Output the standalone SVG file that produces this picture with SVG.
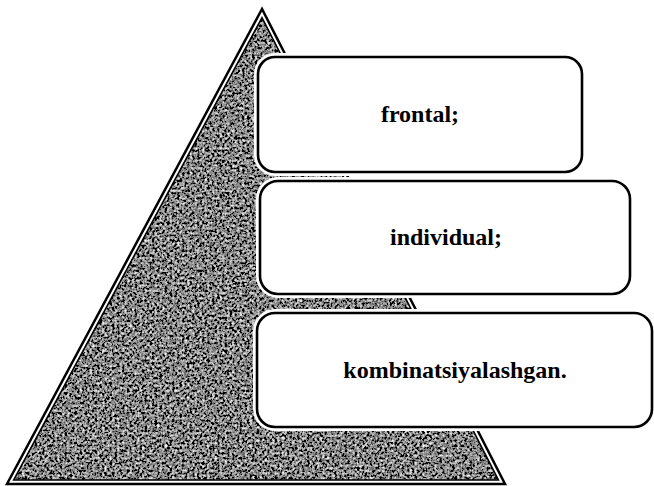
<svg xmlns="http://www.w3.org/2000/svg" width="654" height="486" viewBox="0 0 654 486">
  <style>
    .halo { fill: none; stroke: #ffffff; stroke-width: 8; }
    .box { fill: #ffffff; stroke: #000000; stroke-width: 2.6; }
    .label { font-family: "Liberation Serif", "Times New Roman", serif; font-weight: bold; font-size: 24px; fill: #000000; text-anchor: middle; }
  </style>
  <defs>
    <clipPath id="triClip">
      <polygon points="262,17.6 13.7,480 498.4,480"/>
    </clipPath>
    <filter id="granite" x="0" y="0" width="100%" height="100%" filterUnits="objectBoundingBox">
      <feTurbulence type="fractalNoise" baseFrequency="0.4" numOctaves="3" seed="7" result="n"/>
      <feColorMatrix in="n" type="matrix" values="0.33 0.33 0.33 0 0  0.33 0.33 0.33 0 0  0.33 0.33 0.33 0 0  0 0 0 0 1" result="g"/>
      <feComponentTransfer in="g">
        <feFuncR type="linear" slope="3.4" intercept="-1.45"/>
        <feFuncG type="linear" slope="3.4" intercept="-1.45"/>
        <feFuncB type="linear" slope="3.4" intercept="-1.45"/>
        <feFuncA type="linear" slope="0" intercept="1"/>
      </feComponentTransfer>
    </filter>
  </defs>

  <g id="pyramid">
    <polygon points="262,9 7,484 505,484" fill="#ffffff" stroke="#000000" stroke-width="2.5" stroke-linejoin="miter"/>
    <g clip-path="url(#triClip)">
      <rect x="0" y="0" width="520" height="486" fill="#4a4a4a"/>
      <rect x="0" y="0" width="520" height="486" filter="url(#granite)"/>
    </g>
    <polygon points="262,17.6 13.7,480 498.4,480" fill="none" stroke="#000000" stroke-width="1.6"/>
  </g>

  <g id="connectors"></g>

  <g id="node-frontal">
    <rect class="halo" x="258" y="57" width="324" height="115" rx="17" ry="17"/>
    <rect class="box" x="258" y="57" width="324" height="115" rx="17" ry="17"/>
    <text class="label" x="420" y="122">frontal;</text>
  </g>

  <g id="node-individual">
    <rect class="halo" x="260" y="181" width="370" height="113" rx="18" ry="18"/>
    <rect class="box" x="260" y="181" width="370" height="113" rx="18" ry="18"/>
    <text class="label" x="446" y="245">individual;</text>
  </g>

  <g id="node-kombinatsiyalashgan">
    <rect class="halo" x="257" y="313" width="395" height="114" rx="18" ry="18"/>
    <rect class="box" x="257" y="313" width="395" height="114" rx="18" ry="18"/>
    <text class="label" x="455" y="378">kombinatsiyalashgan.</text>
  </g>
</svg>
